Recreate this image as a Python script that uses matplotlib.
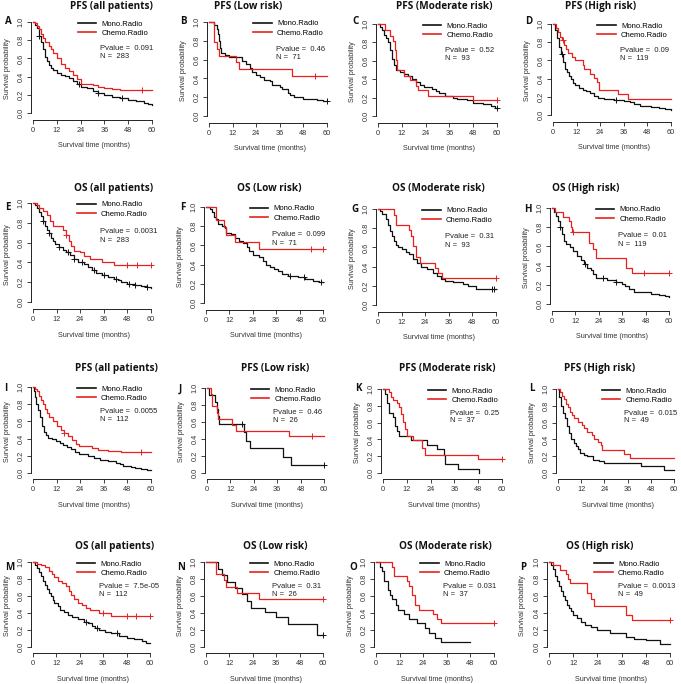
import numpy as np
import matplotlib
matplotlib.use("Agg")
import matplotlib.pyplot as plt
from matplotlib.lines import Line2D

W, H = 681, 684
BLACK = "#111111"
RED = "#e8211f"

LETTERS = list("ABCDEFGHIJKLMNOP")
TITLES = ["PFS (all patients)", "PFS (Low risk)", "PFS (Moderate risk)", "PFS (High risk)",
          "OS (all patients)", "OS (Low risk)", "OS (Moderate risk)", "OS (High risk)",
          "PFS (all patients)", "PFS (Low risk)", "PFS (Moderate risk)", "PFS (High risk)",
          "OS (all patients)", "OS (Low risk)", "OS (Moderate risk)", "OS (High risk)"]
PVALUES = ["0.091", "0.46", "0.52", "0.09", "0.0031", "0.099", "0.31", "0.01",
           "0.0055", "0.46", "0.25", "0.015", "7.5e-05", "0.31", "0.031", "0.0013"]
NS = [283, 71, 93, 119, 283, 71, 93, 119, 112, 26, 37, 49, 112, 26, 37, 49]
XTICKS = [0, 12, 24, 36, 48, 60]
YTICKS = [0.0, 0.2, 0.4, 0.6, 0.8, 1.0]

# Kaplan-Meier curves: (time, survival after that time)
A_MONO = [(0, 1), (1, .97), (2, .93), (3, .85), (4, .78), (5, .70), (6, .62), (7, .57), (8, .53),
          (9, .50), (10, .47), (12, .44), (14, .42), (16, .41), (18, .38), (20, .35), (22, .32),
          (24, .29), (27, .27), (30, .24), (33, .22), (36, .20), (40, .18), (44, .16), (48, .14),
          (52, .13), (56, .11), (58, .10), (60, .09)]
A_CHEMO = [(0, 1), (1, .99), (2, .96), (3, .92), (4, .87), (5, .82), (6, .78), (8, .74), (9, .70),
           (10, .66), (12, .60), (14, .54), (16, .49), (18, .46), (20, .42), (22, .37), (24, .32),
           (30, .31), (33, .29), (36, .27), (40, .26), (44, .25), (60, .25)]
B_MONO = [(0, 1), (2.5, .97), (4, .93), (4.5, .87), (5, .80), (5.5, .72), (6, .67), (8, .65),
          (10, .63), (17, .58), (19, .55), (21, .51), (22, .47), (24, .44), (26, .41), (28, .38),
          (31, .37), (32, .33), (36, .31), (37, .29), (40, .25), (41, .22), (43, .20), (48, .18),
          (55, .17), (58, .16), (60, .16)]
B_CHEMO = [(0, 1), (2.5, .79), (4, .71), (5, .64), (13.5, .57), (15, .50), (42, .43), (60, .43)]
C_MONO = [(0, 1), (1, .97), (2, .93), (3, .88), (4, .85), (5, .80), (6, .72), (7, .62), (8, .55),
          (9, .50), (11, .48), (13, .46), (15, .43), (17, .40), (19, .37), (21, .34), (23, .31),
          (27, .29), (29, .27), (31, .25), (34, .22), (38, .20), (40, .18), (45, .17), (48, .14),
          (53, .13), (57, .11), (59, .09), (60, .09)]
C_CHEMO = [(0, 1), (3.5, .94), (6, .87), (7.5, .82), (8.5, .72), (9, .61), (9.5, .50), (13, .44),
           (16, .39), (19, .33), (20, .28), (25, .22), (48, .17), (60, .17)]
D_MONO = [(0, 1), (1, .93), (2, .85), (3, .75), (4, .67), (5, .58), (6, .50), (7, .47), (8, .43),
          (9, .40), (10, .35), (11, .33), (13, .30), (15, .28), (17, .26), (19, .24), (21, .21),
          (23, .19), (26, .18), (31, .17), (33, .16), (36, .15), (39, .14), (41, .12), (44, .10),
          (50, .09), (54, .08), (57, .07), (60, .06)]
D_CHEMO = [(0, 1), (1.5, .96), (2.5, .91), (3.5, .86), (4.5, .82), (5.5, .77), (6.5, .73),
           (7.5, .68), (9.5, .64), (11, .60), (15, .55), (16, .50), (19, .45), (21, .41),
           (22.5, .36), (23.5, .27), (33, .23), (38, .18), (60, .18)]
E_MONO = [(0, 1), (1, .98), (2, .95), (3, .91), (4, .87), (5, .82), (6, .77), (7, .73), (8, .70),
          (9, .65), (10, .62), (11, .59), (13, .56), (15, .53), (17, .51), (19, .47), (21, .43),
          (23, .40), (26, .38), (28, .35), (30, .32), (32, .29), (35, .27), (38, .25), (41, .23),
          (43, .22), (45, .20), (48, .18), (52, .17), (55, .16), (58, .15), (60, .14)]
E_CHEMO = [(0, 1), (2, .98), (3, .95), (5, .92), (7, .88), (8.5, .82), (10, .77), (15, .73),
           (17, .68), (18.5, .62), (19.5, .57), (21, .52), (24, .50), (26, .46), (29, .43),
           (35, .40), (41, .37), (60, .37)]
F_MONO = [(0, 1), (2, .98), (3, .95), (4, .90), (5, .87), (6, .82), (8, .80), (9.5, .78),
          (10.5, .73), (13, .72), (15, .68), (17, .65), (19, .62), (21, .58), (22, .54),
          (24, .50), (27, .48), (29, .44), (31, .40), (33, .38), (35, .35), (37, .33), (39, .30),
          (42, .28), (47, .27), (51, .25), (55, .23), (58, .22), (60, .22)]
F_CHEMO = [(0, 1), (5, .86), (9, .79), (10.5, .71), (15, .64), (27, .56), (60, .56)]
G_MONO = [(0, 1), (1, .98), (2, .95), (4, .90), (5, .83), (6, .77), (7, .72), (8, .67), (9, .63),
          (10, .60), (12, .58), (14, .55), (16, .53), (18, .48), (20, .44), (22, .40), (25, .37),
          (28, .33), (30, .30), (32, .27), (34, .25), (38, .24), (43, .22), (46, .20), (50, .17),
          (60, .17)]
G_CHEMO = [(0, 1), (8, .94), (9, .83), (16, .78), (17, .72), (18, .61), (19.5, .50), (21.5, .44),
           (29, .39), (30.5, .33), (32.5, .28), (60, .28)]
H_MONO = [(0, 1), (1, .96), (2, .92), (3, .86), (4, .80), (5, .73), (6, .66), (7, .62), (9, .59),
          (11, .55), (13, .50), (15, .46), (16.5, .42), (18, .38), (20, .35), (21, .31), (22.5, .27),
          (28, .25), (33, .23), (36, .21), (37.5, .19), (39.5, .16), (42, .13), (47, .12),
          (51, .10), (55, .09), (58, .08), (60, .07)]
H_CHEMO = [(0, 1), (1.5, .96), (5.5, .91), (8.5, .86), (9.5, .80), (10.5, .75), (19, .64),
           (21, .57), (22.5, .48), (38, .38), (41, .32), (60, .32)]
I_MONO = [(0, 1), (.5, .95), (1, .88), (1.5, .80), (2.5, .73), (3.5, .65), (4.5, .55), (5.5, .48),
          (6.5, .44), (7.5, .41), (9.5, .39), (11.5, .37), (13.5, .35), (15.5, .33), (17.5, .30),
          (19.5, .28), (21.5, .25), (23.5, .22), (28, .20), (31, .17), (34, .15), (38, .14),
          (42, .12), (44, .10), (46, .08), (50, .07), (52, .06), (55, .05), (58, .04), (60, .04)]
I_CHEMO = [(0, 1), (1, .98), (2, .95), (3, .90), (4, .85), (5, .80), (6, .75), (7, .70), (8, .65),
           (10, .60), (12, .55), (14, .50), (16, .47), (18, .43), (20, .38), (22, .34), (23.5, .31),
           (30, .29), (33, .27), (38, .26), (45, .24), (60, .24)]
J_MONO = [(0, 1), (1, .92), (4, .83), (5, .75), (5.5, .67), (6, .58), (19, .48), (20, .38),
          (22, .29), (39, .19), (43, .10), (60, .10)]
J_CHEMO = [(0, 1), (2, .93), (2.5, .79), (5, .71), (5.5, .64), (13, .57), (15, .50), (42, .43),
           (60, .43)]
K_MONO = [(0, 1), (1, .94), (2, .83), (3, .72), (5, .67), (6, .56), (7, .50), (8, .44), (14, .39),
          (22, .33), (27, .28), (31, .22), (31.5, .11), (38, .05), (48.5, .0)]
K_CHEMO = [(0, 1), (3, .96), (4, .91), (5, .87), (7, .83), (8, .78), (9, .70), (10, .61),
           (11, .52), (12, .44), (15, .39), (19.5, .30), (21, .22), (48, .17), (60, .17)]
L_MONO = [(0, 1), (.5, .90), (1.5, .80), (2.5, .72), (3.5, .65), (4.5, .56), (5.5, .48), (6.5, .40),
          (8.5, .36), (9.5, .32), (10.5, .28), (11.5, .24), (13.5, .22), (15, .20), (18, .16),
          (21, .14), (24, .12), (43, .08), (55, .04), (60, .04)]
L_CHEMO = [(0, 1), (1, .96), (2, .92), (3, .88), (4, .82), (5, .78), (6, .73), (7, .69), (8.5, .65),
           (10.5, .61), (12.5, .57), (13.5, .53), (15, .49), (17.5, .45), (18.5, .41), (20.5, .37),
           (22, .33), (23, .27), (34, .23), (37, .18), (60, .18)]
M_MONO = [(0, 1), (1, .97), (2, .93), (3, .88), (4, .83), (5, .78), (6, .73), (7, .68), (8, .64),
          (9, .60), (10, .55), (11, .52), (13, .48), (14, .44), (16, .41), (18, .38), (20, .35),
          (23, .33), (26, .30), (28, .28), (30, .25), (32, .22), (34, .20), (37, .18), (40, .16),
          (44, .13), (48, .11), (52, .09), (56, .07), (58, .05), (60, .05)]
M_CHEMO = [(0, 1), (2, .98), (4, .96), (6, .94), (8, .90), (9.5, .86), (11, .82), (13, .78),
           (15, .75), (17, .72), (18.5, .66), (19.5, .61), (21, .56), (23, .52), (25, .49),
           (27, .46), (29, .43), (34, .40), (40, .37), (60, .37)]
N_MONO = [(0, 1), (6, .92), (8, .85), (11, .77), (15, .69), (18.5, .62), (21, .54), (23, .46),
          (30, .41), (36, .35), (42, .27), (57, .14), (60, .14)]
N_CHEMO = [(0, 1), (5, .86), (9, .79), (10.5, .71), (16, .64), (27, .57), (60, .57)]
O_MONO = [(0, 1), (2, .94), (3, .89), (4, .78), (6, .67), (7, .61), (8, .56), (10, .50), (11, .44),
          (14, .39), (17, .33), (21, .28), (25, .22), (27, .17), (30, .11), (33, .06), (48, .06)]
O_CHEMO = [(0, 1), (8, .94), (9, .83), (16, .78), (17, .72), (18.5, .61), (20, .50), (22, .44),
           (29, .39), (31, .33), (33, .28), (60, .28)]
P_MONO = [(0, 1), (1, .96), (2, .92), (3, .84), (4, .78), (5, .72), (6, .66), (7, .60), (8, .55),
          (9, .50), (10, .46), (11, .42), (12, .38), (14, .34), (16, .30), (18, .26), (21, .24),
          (24, .20), (30, .16), (38, .12), (42, .10), (48, .08), (55, .04), (60, .04)]
P_CHEMO = [(0, 1), (2, .96), (5.5, .91), (8.5, .86), (9.5, .80), (10.5, .75), (19, .64),
           (21, .57), (22.5, .48), (38, .38), (41, .32), (60, .32)]

# censored observations (times)
A_MONO_CENS = [3, 23, 33, 45]
A_CHEMO_CENS = [55]
B_MONO_CENS = [60]
B_CHEMO_CENS = [54]
C_MONO_CENS = [60]
C_CHEMO_CENS = [60]
D_MONO_CENS = [4.5, 32]
D_CHEMO_CENS = [5]
E_MONO_CENS = [5, 8, 13, 18, 21, 25, 31, 36, 42, 49, 52, 58]
E_CHEMO_CENS = [17, 48, 53, 60]
F_MONO_CENS = [43, 50, 59]
F_CHEMO_CENS = [54, 60]
G_MONO_CENS = [58, 59]
G_CHEMO_CENS = [60]
H_MONO_CENS = [4, 17, 26, 33]
H_CHEMO_CENS = [11, 47, 60]
I_MONO_CENS = []
I_CHEMO_CENS = [16, 55]
J_MONO_CENS = [18, 60]
J_CHEMO_CENS = [54]
K_MONO_CENS = []
K_CHEMO_CENS = [60]
L_MONO_CENS = []
L_CHEMO_CENS = []
M_MONO_CENS = [27, 33, 43]
M_CHEMO_CENS = [36, 48, 53, 60]
N_MONO_CENS = [60]
N_CHEMO_CENS = [60]
O_MONO_CENS = []
O_CHEMO_CENS = [60]
P_MONO_CENS = []
P_CHEMO_CENS = [60]

MONO = [A_MONO, B_MONO, C_MONO, D_MONO, E_MONO, F_MONO, G_MONO, H_MONO,
        I_MONO, J_MONO, K_MONO, L_MONO, M_MONO, N_MONO, O_MONO, P_MONO]
CHEMO = [A_CHEMO, B_CHEMO, C_CHEMO, D_CHEMO, E_CHEMO, F_CHEMO, G_CHEMO, H_CHEMO,
         I_CHEMO, J_CHEMO, K_CHEMO, L_CHEMO, M_CHEMO, N_CHEMO, O_CHEMO, P_CHEMO]
MONO_CENS = [A_MONO_CENS, B_MONO_CENS, C_MONO_CENS, D_MONO_CENS, E_MONO_CENS, F_MONO_CENS,
             G_MONO_CENS, H_MONO_CENS, I_MONO_CENS, J_MONO_CENS, K_MONO_CENS, L_MONO_CENS,
             M_MONO_CENS, N_MONO_CENS, O_MONO_CENS, P_MONO_CENS]
CHEMO_CENS = [A_CHEMO_CENS, B_CHEMO_CENS, C_CHEMO_CENS, D_CHEMO_CENS, E_CHEMO_CENS,
              F_CHEMO_CENS, G_CHEMO_CENS, H_CHEMO_CENS, I_CHEMO_CENS, J_CHEMO_CENS,
              K_CHEMO_CENS, L_CHEMO_CENS, M_CHEMO_CENS, N_CHEMO_CENS, O_CHEMO_CENS,
              P_CHEMO_CENS]

# layout in pixels: x of t=0, x of t=60, y of S=1, y of S=0
PANEL_PX = [(33, 152, 22, 113), (209, 327, 22, 116), (378, 497, 24, 116), (553, 671, 24, 115),
            (33, 151, 203, 302), (206, 323, 207, 303), (378, 496, 209, 305), (552, 669, 208, 304),
            (33, 151, 387, 473), (207, 324, 388, 473), (383, 502, 389, 473), (558, 674, 389, 473),
            (33, 150, 562, 647), (206, 323, 562, 647), (376, 494, 562, 647), (549, 670, 562, 647)]
TITLE_PX = [(111, 7), (248, 7), (444, 7), (601, 7),
            (114, 188), (269, 188), (438, 188), (586, 188),
            (116, 368), (275, 368), (447, 368), (600, 368),
            (115, 547), (275, 547), (445, 547), (600, 547)]
LETTER_PX = [(5, 22), (180, 22), (352, 22), (525, 22),
             (5, 208), (180, 208), (351, 209), (524, 209),
             (4, 389), (179, 389), (355, 389), (529, 389),
             (5, 568), (177, 568), (349, 568), (520, 568)]

X_LO, X_HI = -0.8, 62.4
Y_LO, Y_HI = -0.075, 1.04


def km_value(curve, t):
    times = np.array([c[0] for c in curve])
    surv = np.array([c[1] for c in curve])
    i = np.searchsorted(times, t, side="right") - 1
    return surv[max(i, 0)]


def draw_curve(ax, curve, cens, color):
    t = [c[0] for c in curve]
    s = [c[1] for c in curve]
    ax.plot(t, s, drawstyle="steps-post", color=color, lw=0.9)
    if cens:
        ax.plot(cens, [km_value(curve, c) for c in cens], ls="none", marker="+",
                ms=4, mew=0.7, color=color)


plt.rcParams["font.family"] = ["Liberation Sans", "DejaVu Sans"]
fig = plt.figure(figsize=(W / 100, H / 100), dpi=100)

for k in range(16):
    x0, x60, y1, y0 = PANEL_PX[k]
    sx = (x60 - x0) / 60.0
    sy = (y0 - y1) / 1.0
    left = x0 + (X_LO * sx)
    right = x0 + X_HI * sx
    top = y0 - Y_HI * sy
    bottom = y0 - Y_LO * sy
    ax = fig.add_axes([left / W, 1 - bottom / H, (right - left) / W, (bottom - top) / H])
    ax.set_xlim(X_LO, X_HI)
    ax.set_ylim(Y_LO, Y_HI)

    draw_curve(ax, MONO[k], MONO_CENS[k], BLACK)
    draw_curve(ax, CHEMO[k], CHEMO_CENS[k], RED)

    for side in ["top", "right"]:
        ax.spines[side].set_visible(False)
    ax.spines["left"].set_bounds(0, 1)
    ax.spines["bottom"].set_bounds(0, 60)
    for side in ["left", "bottom"]:
        ax.spines[side].set_linewidth(0.7)
        ax.spines[side].set_color("#222222")
    ax.set_xticks(XTICKS)
    ax.set_yticks(YTICKS)
    ax.set_yticklabels([f"{v:.1f}" for v in YTICKS], rotation=90, va="center")
    ax.tick_params(direction="out", length=3, width=0.6, labelsize=5.3, pad=2,
                   colors="#222222", labelcolor="#333333")
    ax.set_xlabel("Survival time (months)", fontsize=5.2, color="#333333", labelpad=6)
    ax.set_ylabel("Survival probability", fontsize=5.2, color="#333333", labelpad=5)

    handles = [Line2D([], [], color=BLACK, lw=1.2), Line2D([], [], color=RED, lw=1.2)]
    ax.legend(handles, ["Mono.Radio", "Chemo.Radio"], loc="upper left",
              bbox_to_anchor=((22.5 - X_LO) / (X_HI - X_LO), (1.02 - Y_LO) / (Y_HI - Y_LO)),
              frameon=False, fontsize=5.5, handlelength=2.4, handletextpad=0.7,
              labelspacing=0.25, borderpad=0, borderaxespad=0)
    ax.text(34, 0.71, f"Pvalue =  {PVALUES[k]}", fontsize=5.5, color="#222222", va="center")
    ax.text(34, 0.62, f"N =  {NS[k]}", fontsize=5.5, color="#222222", va="center")

    tx, ty = TITLE_PX[k]
    fig.text(tx / W, 1 - ty / H, TITLES[k], fontsize=7.2, fontweight="bold",
             family="Open Sans", ha="center", va="center", color="#111111")
    lx, ly = LETTER_PX[k]
    fig.text(lx / W, 1 - ly / H, LETTERS[k], fontsize=7, fontweight="bold",
             family="Open Sans", ha="left", va="center", color="#111111")

fig.savefig("out.png", dpi=100)
